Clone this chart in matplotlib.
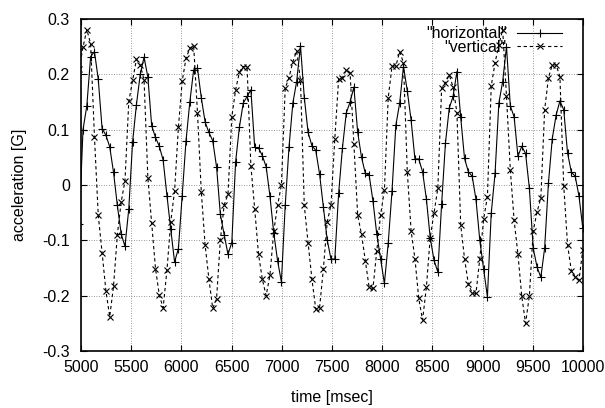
import numpy as np
import matplotlib
matplotlib.use("Agg")
import matplotlib.pyplot as plt

plt.rcParams['font.family'] = ['Liberation Sans', 'DejaVu Sans']

# samples every 38 msec, first one lies just left of the axis (gets clipped)
T_START = 4982
T_STEP = 38

horizontal = [
    -0.070,
    0.100, 0.143, 0.232, 0.241, 0.191, 0.102, 0.090, 0.069, 0.023, -0.037,
    -0.088, -0.111, -0.043, 0.078, 0.145, 0.200, 0.231, 0.195, 0.107, 0.086,
    0.070, 0.045, -0.019, -0.080, -0.139, -0.115, -0.019, 0.080, 0.150, 0.208,
    0.211, 0.158, 0.114, 0.095, 0.080, 0.033, -0.053, -0.090, -0.125, -0.104,
    0.042, 0.105, 0.148, 0.160, 0.172, 0.068, 0.067, 0.053, 0.033, -0.020,
    -0.087, -0.137, -0.175, -0.037, 0.069, 0.148, 0.187, 0.252, 0.158, 0.095,
    0.071, 0.063, 0.020, -0.039, -0.099, -0.134, -0.134, -0.015, 0.067, 0.130,
    0.150, 0.177, 0.095, 0.050, 0.021, 0.018, -0.029, -0.089, -0.133, -0.178,
    -0.105, -0.010, 0.108, 0.148, 0.214, 0.170, 0.117, 0.047, 0.047, 0.024,
    -0.025, -0.095, -0.136, -0.157, -0.034, 0.076, 0.139, 0.160, 0.205, 0.122,
    0.048, 0.024, 0.016, -0.026, -0.100, -0.152, -0.202, -0.051, 0.021, 0.148,
    0.187, 0.250, 0.143, 0.123, 0.052, 0.070, 0.057, -0.006, -0.114, -0.148,
    -0.167, -0.114, 0.004, 0.084, 0.126, 0.152, 0.136, 0.058, 0.023, 0.016,
    -0.020, -0.078,
]

vertical = [
    0.210,
    0.249, 0.281, 0.255, 0.087, -0.055, -0.122, -0.191, -0.238, -0.183, -0.090,
    -0.031, 0.008, 0.151, 0.189, 0.227, 0.217, 0.190, 0.013, -0.069, -0.151,
    -0.199, -0.222, -0.154, -0.066, -0.011, 0.104, 0.188, 0.229, 0.247, 0.252,
    0.131, -0.012, -0.108, -0.170, -0.223, -0.206, -0.099, -0.036, -0.017, 0.123,
    0.172, 0.204, 0.214, 0.214, 0.035, -0.043, -0.125, -0.170, -0.200, -0.163,
    -0.083, -0.037, 0.000, 0.175, 0.194, 0.223, 0.242, 0.190, -0.037, -0.105,
    -0.170, -0.224, -0.222, -0.152, -0.067, -0.036, 0.084, 0.191, 0.193, 0.208,
    0.203, 0.075, -0.055, -0.089, -0.137, -0.185, -0.187, -0.119, -0.054, -0.009,
    0.158, 0.215, 0.215, 0.241, 0.221, 0.024, -0.083, -0.133, -0.205, -0.244,
    -0.185, -0.095, -0.051, -0.006, 0.175, 0.185, 0.199, 0.177, 0.131, -0.072,
    -0.133, -0.179, -0.195, -0.196, -0.133, -0.062, -0.021, 0.179, 0.221, 0.253,
    0.281, 0.160, 0.028, -0.064, -0.125, -0.201, -0.250, -0.200, -0.083, -0.049,
    -0.023, 0.136, 0.194, 0.217, 0.217, 0.196, -0.001, -0.108, -0.155, -0.166,
    -0.172, -0.117,
]

time_ms = T_START + T_STEP * np.arange(len(horizontal))

x_ticks = [5000, 5500, 6000, 6500, 7000, 7500, 8000, 8500, 9000, 9500, 10000]
y_ticks = [-0.3, -0.2, -0.1, 0.0, 0.1, 0.2, 0.3]
y_tick_labels = ["-0.3", "-0.2", "-0.1", "0", "0.1", "0.2", "0.3"]

FS = 11.5

fig = plt.figure(figsize=(6.05, 4.08), dpi=100)
ax = fig.add_axes([81 / 605, 1 - 351 / 408, 502 / 605, 332 / 408])

ax.plot(time_ms, horizontal, color='black', lw=0.8, marker='+', ms=5.5,
        mew=0.8, label='"horizontal"')
ax.plot(time_ms, vertical, color='black', lw=0.8, ls=(0, (3, 2.5)), marker='x',
        ms=4, mew=0.8, label='"vertical"')

ax.set_xlim(5000, 10000)
ax.set_ylim(-0.3, 0.3)
ax.set_xticks(x_ticks)
ax.set_yticks(y_ticks)
ax.set_yticklabels(y_tick_labels)

ax.grid(True, color='#777777', lw=0.6, ls=(0, (1, 2)))
ax.tick_params(direction='in', top=True, right=True, length=4, width=0.8,
               labelsize=FS)
ax.tick_params(axis='x', pad=6.5)
ax.tick_params(axis='y', pad=8)
for s in ax.spines.values():
    s.set_linewidth(1.2)

ax.set_xlabel("time [msec]", fontsize=FS, labelpad=11)
ax.set_ylabel("acceleration [G]", fontsize=FS, labelpad=11)

ax.legend(loc='upper right', bbox_to_anchor=(0.958, 0.978), frameon=False,
          markerfirst=False, fontsize=FS, handlelength=2.8, handletextpad=0.65,
          borderpad=0, borderaxespad=0, labelspacing=-0.08, numpoints=1)

fig.savefig("out.png", dpi=100)
